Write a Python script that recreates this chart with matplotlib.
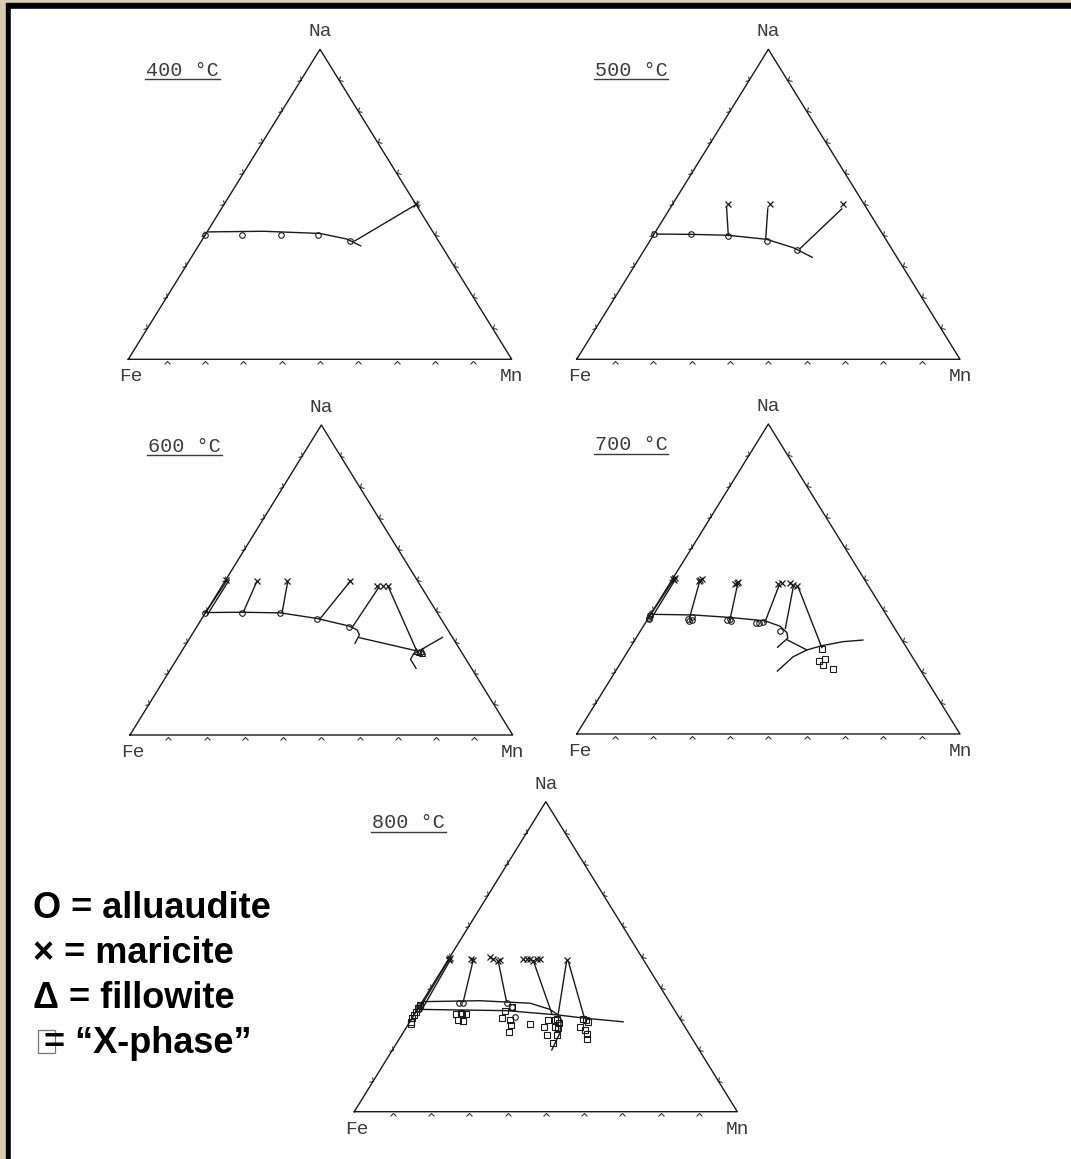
import numpy as np
import matplotlib
matplotlib.use("Agg")
import matplotlib.pyplot as plt
from matplotlib.markers import MarkerStyle
from matplotlib.path import Path
from matplotlib.patches import Rectangle
from matplotlib.transforms import Affine2D

# Compositions are (Na, Mn) atomic fractions, Fe = 1 - Na - Mn

# ---- 400 C ----
allu400_na = [0.40, 0.40, 0.40, 0.40, 0.382]
allu400_mn = [0.00, 0.096, 0.197, 0.295, 0.387]
mar400_na = [0.50]
mar400_mn = [0.50]
solv400_na = [0.411, 0.413, 0.406, 0.388, 0.366]
solv400_mn = [0.003, 0.146, 0.297, 0.376, 0.423]
ties400 = [(0.382, 0.400, 0.498, 0.500)]

# ---- 500 C ----
allu500_na = [0.403, 0.403, 0.399, 0.382, 0.353]
allu500_mn = [0.00, 0.096, 0.196, 0.306, 0.397]
mar500_na = [0.50, 0.50, 0.50]
mar500_mn = [0.146, 0.254, 0.446]
solv500_na = [0.404, 0.403, 0.400, 0.387, 0.360, 0.329]
solv500_mn = [0.007, 0.100, 0.196, 0.302, 0.385, 0.450]
ties500 = [(0.399, 0.196, 0.490, 0.146),
           (0.386, 0.300, 0.485, 0.256),
           (0.357, 0.404, 0.485, 0.449)]

# ---- 600 C ----
allu600_na = [0.393, 0.393, 0.393, 0.374, 0.347]
allu600_mn = [0.00, 0.095, 0.196, 0.301, 0.398]
mar600_na = [0.500, 0.498, 0.498, 0.498, 0.481, 0.481, 0.481]
mar600_mn = [0.001, 0.082, 0.160, 0.326, 0.405, 0.421, 0.434]
fill600_na = [0.272, 0.268, 0.272, 0.266]
fill600_mn = [0.612, 0.620, 0.626, 0.629]
solv600_na = [0.395, 0.396, 0.394, 0.376, 0.352, 0.339, 0.323, 0.296]
solv600_mn = [0.000, 0.094, 0.196, 0.300, 0.395, 0.424, 0.438, 0.440]
fbound600_na = [0.315, 0.276, 0.261, 0.244, 0.215]
fbound600_mn = [0.659, 0.624, 0.610, 0.611, 0.640]
ties600 = [(0.393, 0.000, 0.500, 0.004),
           (0.390, 0.008, 0.500, 0.009),
           (0.396, 0.098, 0.494, 0.084),
           (0.395, 0.200, 0.494, 0.165),
           (0.375, 0.309, 0.498, 0.328),
           (0.347, 0.407, 0.478, 0.412),
           (0.478, 0.436, 0.272, 0.613),
           (0.314, 0.442, 0.272, 0.611)]

# ---- 700 C ----
allu700_na = [0.385, 0.380, 0.375, 0.371,
              0.371, 0.376, 0.368, 0.366,
              0.368, 0.372, 0.365,
              0.357, 0.357, 0.360, 0.333]
allu700_mn = [0.000, 0.000, 0.002, 0.004,
              0.105, 0.112, 0.118, 0.110,
              0.208, 0.214, 0.219,
              0.289, 0.298, 0.305, 0.364]
mar700_na = [0.500, 0.497, 0.503, 0.497, 0.500, 0.494,
             0.488, 0.491, 0.485, 0.484, 0.488, 0.486, 0.481, 0.477]
mar700_mn = [0.002, 0.006, 0.004, 0.073, 0.076, 0.071,
             0.173, 0.176, 0.171, 0.284, 0.291, 0.313, 0.325, 0.335]
xph700_na = [0.274, 0.236, 0.242, 0.222, 0.210]
xph700_mn = [0.502, 0.515, 0.527, 0.532, 0.563]
solv700_na = [0.386, 0.384, 0.376, 0.365, 0.348, 0.327, 0.309, 0.280]
solv700_mn = [0.007, 0.112, 0.212, 0.309, 0.356, 0.385, 0.396, 0.384]
xbound700_na = [0.203, 0.249, 0.271, 0.285, 0.298, 0.303]
xbound700_mn = [0.422, 0.440, 0.465, 0.497, 0.547, 0.595]
ties700 = [(0.378, 0.000, 0.500, 0.004),
           (0.375, 0.008, 0.497, 0.008),
           (0.378, 0.106, 0.495, 0.074),
           (0.370, 0.215, 0.484, 0.178),
           (0.359, 0.311, 0.481, 0.288),
           (0.341, 0.374, 0.477, 0.327),
           (0.279, 0.500, 0.475, 0.340),
           (0.303, 0.399, 0.271, 0.465)]

# ---- 800 C ----
allu800_na = [0.350, 0.350, 0.350, 0.337, 0.305, 0.340, 0.330]
allu800_mn = [0.099, 0.108, 0.223, 0.242, 0.267, 0.000, 0.004]
mar800_na = [0.492, 0.496, 0.488, 0.492, 0.490, 0.498, 0.492, 0.487, 0.490,
             0.492, 0.492, 0.492, 0.487, 0.492, 0.492, 0.489]
mar800_mn = [0.000, 0.002, 0.004, 0.060, 0.066, 0.105, 0.117, 0.132, 0.136,
             0.195, 0.204, 0.213, 0.224, 0.230, 0.239, 0.310]
xph800_na = [0.301, 0.312, 0.323, 0.334, 0.344, 0.290, 0.282,
             0.314, 0.314, 0.314, 0.296, 0.293, 0.320,
             0.301, 0.326, 0.296, 0.280, 0.258, 0.339,
             0.282,
             0.274, 0.247, 0.296, 0.223, 0.296, 0.274, 0.247, 0.269, 0.298, 0.285,
             0.272, 0.298, 0.264, 0.251, 0.234, 0.296, 0.290]
xph800_mn = [0.000, 0.000, 0.000, 0.000, 0.000, 0.004, 0.006,
             0.108, 0.123, 0.134, 0.123, 0.138, 0.118,
             0.234, 0.230, 0.258, 0.268, 0.276, 0.241,
             0.318,
             0.358, 0.379, 0.358, 0.408, 0.376, 0.387, 0.405, 0.398, 0.379, 0.392,
             0.453, 0.449, 0.470, 0.481, 0.491, 0.457, 0.465]
solvA800_na = [0.355, 0.358, 0.350, 0.330, 0.312, 0.296, 0.253, 0.199]
solvA800_mn = [0.000, 0.149, 0.284, 0.346, 0.376, 0.393, 0.410, 0.416]
solvB800_na = [0.330, 0.326, 0.312, 0.301, 0.290]
solvB800_mn = [0.007, 0.235, 0.376, 0.456, 0.557]
ties800 = [(0.334, 0.004, 0.492, 0.002),
           (0.323, 0.012, 0.487, 0.006),
           (0.355, 0.107, 0.492, 0.065),
           (0.355, 0.220, 0.484, 0.134),
           (0.317, 0.357, 0.487, 0.224),
           (0.312, 0.376, 0.487, 0.311),
           (0.306, 0.447, 0.484, 0.317)]

temps = ["400 °C", "500 °C", "600 °C", "700 °C", "800 °C"]
legend_lines = ["O = alluaudite", "× = maricite", "Δ = fillowite", "= “X-phase”"]

W, H = 1071, 1159
fig = plt.figure(figsize=(W / 100, H / 100), dpi=100)

# page background and frame, in pixel units
bg = fig.add_axes([0, 0, 1, 1])
bg.set_xlim(0, W)
bg.set_ylim(H, 0)
bg.axis("off")
bg.add_patch(Rectangle((0, 0), W, H, color="#d8ccb0", zorder=0))
bg.add_patch(Rectangle((6, 3.3), W, H, color="black", zorder=1))
bg.add_patch(Rectangle((11, 9), W, H, color="white", zorder=2))

MONO = "Liberation Mono"
INK = "#1a1a1a"
GREY = "#3c3c3c"

chevron = Path([(-1, -1), (0, 0), (1, -1)],
               [Path.MOVETO, Path.LINETO, Path.LINETO])


def tick_marker(angle):
    return MarkerStyle(chevron, transform=Affine2D().rotate_deg(angle))


def xy(na, mn):
    na = np.asarray(na, float)
    mn = np.asarray(mn, float)
    return mn + na / 2, na


def ternary_panel(left, right, base, top, temp):
    ax = fig.add_axes([left / W, 1 - base / H, (right - left) / W, (base - top) / H])
    ax.set_xlim(0, 1)
    ax.set_ylim(0, 1)
    ax.axis("off")
    ax.plot([0, 1, 0.5, 0], [0, 0, 1, 0], color=INK, lw=1.0, clip_on=False)

    t = np.arange(1, 10) / 10
    w, h = right - left, base - top
    edge = np.degrees(np.arctan2(h, w / 2))
    kw = dict(ls="none", color=INK, ms=4.2, mew=0.7, mfc="none", clip_on=False)
    ax.plot(t, np.full(9, -0.005), marker=tick_marker(0), **kw)
    ax.plot(t / 2, t, marker=tick_marker(edge - 180), **kw)
    ax.plot(1 - t / 2, t, marker=tick_marker(180 - edge), **kw)

    lab = dict(fontfamily=MONO, fontsize=14, color=GREY, ha="center", va="center")
    ax.annotate("Na", (0.5, 1), xytext=(0, 12.5), textcoords="offset points", **lab)
    ax.annotate("Fe", (0, 0), xytext=(2, -12.5), textcoords="offset points", **lab)
    ax.annotate("Mn", (1, 0), xytext=(0, -12.5), textcoords="offset points", **lab)

    txt = bg.text(left + 18, top + 21, temp, fontfamily=MONO, fontsize=14.5,
                  color=GREY, ha="left", va="center", zorder=5)
    fig.canvas.draw()
    bb = txt.get_window_extent().transformed(bg.transData.inverted())
    bg.plot([bb.x0 - 1, bb.x1 + 1], [top + 30, top + 30], color=GREY, lw=1.0, zorder=5)
    return ax


def curve(ax, na, mn):
    ax.plot(*xy(na, mn), color=INK, lw=1.0)


def ties(ax, rows):
    for na1, mn1, na2, mn2 in rows:
        ax.plot(*xy([na1, na2], [mn1, mn2]), color=INK, lw=1.0)


def circles(ax, na, mn):
    ax.plot(*xy(na, mn), ls="none", marker="o", ms=4.0, mew=0.8, mfc="none", color=INK)


def crosses(ax, na, mn):
    ax.plot(*xy(na, mn), ls="none", marker="x", ms=5, mew=0.9, color=INK)


def squares(ax, na, mn):
    ax.plot(*xy(na, mn), ls="none", marker="s", ms=5, mew=0.8, mfc="none", color=INK)


def triangles(ax, na, mn):
    ax.plot(*xy(na, mn), ls="none", marker="^", ms=4.5, mew=0.8, mfc="none", color=INK)


ax = ternary_panel(128.3, 511.7, 359.3, 49.3, temps[0])
curve(ax, solv400_na, solv400_mn)
ties(ax, ties400)
circles(ax, allu400_na, allu400_mn)
crosses(ax, mar400_na, mar400_mn)

ax = ternary_panel(576.7, 960.0, 359.3, 49.3, temps[1])
curve(ax, solv500_na, solv500_mn)
ties(ax, ties500)
circles(ax, allu500_na, allu500_mn)
crosses(ax, mar500_na, mar500_mn)

ax = ternary_panel(130.0, 512.7, 735.0, 425.0, temps[2])
curve(ax, solv600_na, solv600_mn)
curve(ax, fbound600_na, fbound600_mn)
ties(ax, ties600)
circles(ax, allu600_na, allu600_mn)
crosses(ax, mar600_na, mar600_mn)
triangles(ax, fill600_na, fill600_mn)

ax = ternary_panel(576.7, 960.0, 734.0, 424.0, temps[3])
curve(ax, solv700_na, solv700_mn)
curve(ax, xbound700_na, xbound700_mn)
ties(ax, ties700)
circles(ax, allu700_na, allu700_mn)
crosses(ax, mar700_na, mar700_mn)
squares(ax, xph700_na, xph700_mn)

ax = ternary_panel(354.3, 737.3, 1111.7, 801.7, temps[4])
curve(ax, solvA800_na, solvA800_mn)
curve(ax, solvB800_na, solvB800_mn)
ties(ax, ties800)
circles(ax, allu800_na, allu800_mn)
crosses(ax, mar800_na, mar800_mn)
squares(ax, xph800_na, xph800_mn)

# key
key = dict(fontfamily="Liberation Sans", fontweight="bold", fontsize=26,
           color="black", ha="left", va="baseline", zorder=5)
bg.text(33, 918, legend_lines[0], **key)
bg.text(33, 963, legend_lines[1], **key)
bg.text(33, 1008, legend_lines[2], **key)
bg.add_patch(Rectangle((37.5, 1030), 17.5, 23, fill=False, ec="#777777", lw=0.9, zorder=4))
bg.text(44, 1053, legend_lines[3], **key)

fig.savefig("out.png", dpi=100)
